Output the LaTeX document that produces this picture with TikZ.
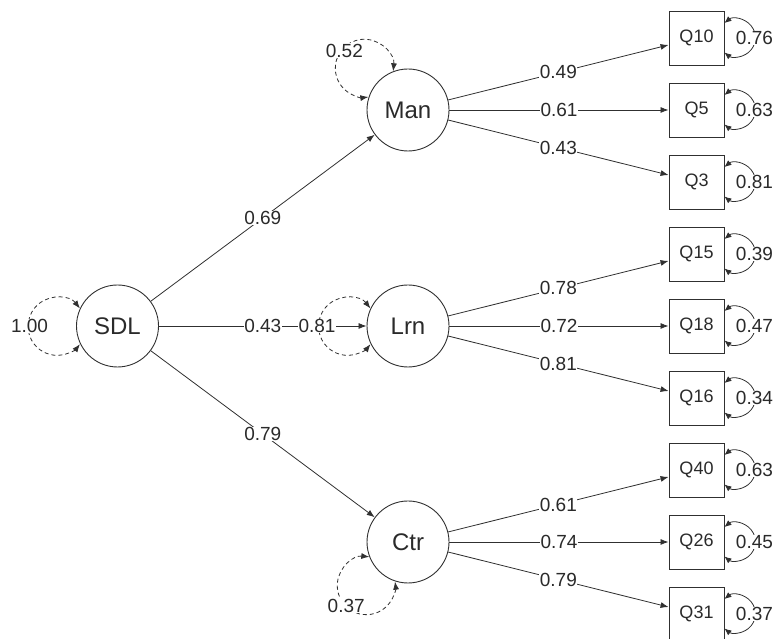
\documentclass[tikz,border=0pt]{standalone}
\usepackage{fontspec}
\setmainfont{Liberation Sans}
\usetikzlibrary{arrows.meta,calc}
\definecolor{ln}{HTML}{303030}
\definecolor{tx}{HTML}{2A2A2A}
\begin{document}
\begin{tikzpicture}[x=1pt,y=1pt,
  lat/.style={circle,draw=ln,line width=0.9pt,minimum size=82pt,inner sep=0pt,font=\fontsize{24}{28}\selectfont,text=tx},
  man/.style={rectangle,draw=ln,line width=0.9pt,minimum width=55pt,minimum height=54pt,inner sep=0pt,font=\fontsize{18}{22}\selectfont,text=tx},
  conn/.style={draw=ln,line width=0.8pt,-{Latex[length=8pt,width=6pt]}},
  lab/.style={fill=white,inner sep=0.5pt,font=\fontsize{19}{22}\selectfont,text=tx},
  varloop/.style={draw=ln,line width=0.8pt,dashed,dash pattern=on 4pt off 3pt,{Latex[length=8pt,width=6pt]}-{Latex[length=8pt,width=6pt]}},
  resloop/.style={draw=ln,line width=0.8pt,{Latex[length=7pt,width=6pt]}-{Latex[length=7pt,width=6pt]}}
]
\useasboundingbox (0,0) rectangle (774,639);
% latent variables
\node[lat] (SDL) at (117.5,313) {SDL};
\node[lat] (Man) at (408,529) {Man};
\node[lat] (Lrn) at (408,313) {Lrn};
\node[lat] (Ctr) at (408,97) {Ctr};
% manifest variables
\node[man] (Q10) at (696.5,601) {Q10};
\node[man] (Q5)  at (696.5,529) {Q5};
\node[man] (Q3)  at (696.5,457) {Q3};
\node[man] (Q15) at (696.5,385) {Q15};
\node[man] (Q18) at (696.5,313) {Q18};
\node[man] (Q16) at (696.5,241) {Q16};
\node[man] (Q40) at (696.5,169) {Q40};
\node[man] (Q26) at (696.5,97) {Q26};
\node[man] (Q31) at (696.5,25) {Q31};
% structural paths
\draw[conn] (SDL) -- node[lab,midway] {0.69} (Man);
\draw[conn] (SDL) -- node[lab,midway] {0.43} (Lrn);
\draw[conn] (SDL) -- node[lab,midway] {0.79} (Ctr);
% loadings
\draw[conn] (Man) -- node[lab,midway] {0.49} (Q10);
\draw[conn] (Man) -- node[lab,midway] {0.61} (Q5);
\draw[conn] (Man) -- node[lab,midway] {0.43} (Q3);
\draw[conn] (Lrn) -- node[lab,midway] {0.78} (Q15);
\draw[conn] (Lrn) -- node[lab,midway] {0.72} (Q18);
\draw[conn] (Lrn) -- node[lab,midway] {0.81} (Q16);
\draw[conn] (Ctr) -- node[lab,midway] {0.61} (Q40);
\draw[conn] (Ctr) -- node[lab,midway] {0.74} (Q26);
\draw[conn] (Ctr) -- node[lab,midway] {0.79} (Q31);
% latent variances
\draw[varloop] (SDL.155) arc[start angle=38,end angle=322,radius=29pt];
\node[lab] (vSDL) at ($(SDL)+(180:88pt)$) {1.00};
\draw[varloop] (Man.111) arc[start angle=-6,end angle=278,radius=29pt];
\node[lab] (vMan) at ($(Man)+(137:87pt)$) {0.52};
\draw[varloop] (Lrn.155) arc[start angle=38,end angle=322,radius=29pt];
\node[lab] (vLrn) at ($(Lrn)+(180:91pt)$) {0.81};
\draw[varloop] (Ctr.201) arc[start angle=84,end angle=368,radius=29pt];
\node[lab] (vCtr) at ($(Ctr)+(226:89pt)$) {0.37};
% residual variances
\foreach \q/\v in {Q10/0.76,Q5/0.63,Q3/0.81,Q15/0.39,Q18/0.47,Q16/0.34,Q40/0.63,Q26/0.45,Q31/0.37}{
  \draw[resloop] ([yshift=15pt]\q.east) arc[start angle=129,end angle=-129,radius=19pt];
  \node[lab] (r\q) at ($(\q.east)+(30pt,0)$) {\v};
}
\end{tikzpicture}
\end{document}
